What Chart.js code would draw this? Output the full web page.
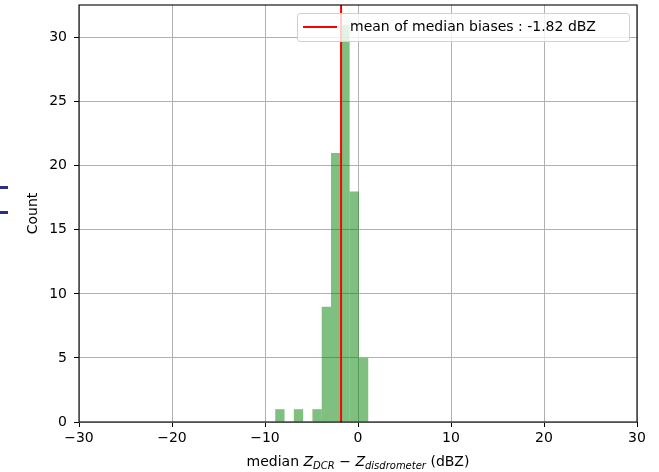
<!DOCTYPE html>
<html>
<head>
<meta charset="utf-8">
<script src="https://cdn.jsdelivr.net/npm/chart.js@4/dist/chart.umd.min.js"></script>
<style>
    body { margin: 0; background: #fff; }
    #wrap { position: relative; width: 659px; height: 472px; font-family: "DejaVu Sans", sans-serif; }
    #legend {
        position: absolute; left: 297px; top: 13px; width: 331px; height: 27px;
        background: rgba(255, 255, 255, 0.8); border: 1px solid #d0d0d0; border-radius: 3px;
        font-size: 14px; color: #000;
    }
    #legend .swatch { position: absolute; left: 5px; top: 12px; width: 34px; height: 2px; background: #ff0000; }
    #legend .txt { position: absolute; left: 52px; top: 4px; white-space: nowrap; }
    #xlabel {
        position: absolute; left: 79px; width: 558px; top: 453px; text-align: center;
        font-size: 14px; color: #000; white-space: nowrap;
    }
    #xlabel sub { font-size: 10px; vertical-align: -3px; }
    #mark { position: absolute; left: 0px; top: 186px; width: 8px; height: 22px;
        border-top: 3px solid #2b2f8c; border-bottom: 3px solid #2b2f8c; }
</style>
</head>
<body>
<div id="wrap">
    <canvas id="hist" width="659" height="472"></canvas>
    <div id="legend"><span class="swatch"></span><span class="txt" id="legendText"></span></div>
    <div id="xlabel">median <i>Z</i><sub><i>DCR</i></sub> − <i>Z</i><sub><i>disdrometer</i></sub> (dBZ)</div>
    <div id="mark"></div>
</div>
<script>
/* ============================================================
   DATA
============================================================ */
const binEdges = [-8.9, -7.9, -6.9, -5.9, -4.9, -3.9, -2.9, -1.9, -0.9, 0.1, 1.1];
const binCounts = [1, 0, 1, 0, 1, 9, 21, 31, 18, 5];
const meanBias = -1.82;
const xTicks = [-30, -20, -10, 0, 10, 20, 30];
const yTicks = [0, 5, 10, 15, 20, 25, 30];
const yMax = 32.55;

/* ============================================================
   Helper
============================================================ */
function minusSign(v) {
    return v < 0 ? "\u2212" + Math.abs(v) : String(v);
}

const barPoints = binCounts.map((c, i) => ({ x: (binEdges[i] + binEdges[i + 1]) / 2, y: c }));

document.getElementById("legendText").textContent =
    "mean of median biases : " + meanBias.toFixed(2) + " dBZ";

// matplotlib draws a box on all four sides
const frame = {
    id: "frame",
    afterDraw(chart) {
        const a = chart.chartArea;
        const ctx = chart.ctx;
        ctx.save();
        ctx.strokeStyle = "#000";
        ctx.lineWidth = 1.1;
        ctx.strokeRect(a.left, a.top, a.right - a.left, a.bottom - a.top);
        ctx.restore();
    }
};

Chart.defaults.font.family = "'DejaVu Sans', sans-serif";
Chart.defaults.color = "#000";

new Chart(document.getElementById("hist").getContext("2d"), {
    type: "bar",
    data: {
        datasets: [
            {
                type: "line",
                data: [{ x: meanBias, y: 0 }, { x: meanBias, y: yMax }],
                borderColor: "#ff0000",
                borderWidth: 2,
                pointRadius: 0,
                order: 0
            },
            {
                type: "bar",
                data: barPoints,
                backgroundColor: "rgba(0, 128, 0, 0.5)",
                borderWidth: 0,
                inflateAmount: 0,
                barPercentage: 1,
                categoryPercentage: 1,
                order: 1
            }
        ]
    },
    options: {
        responsive: false,
        animation: false,
        layout: { padding: { left: 0, right: 22, top: 5, bottom: 0 } },
        plugins: { legend: { display: false }, tooltip: { enabled: false } },
        scales: {
            x: {
                type: "linear",
                min: -30,
                max: 30,
                offset: false,
                afterBuildTicks: s => { s.ticks = xTicks.map(v => ({ value: v })); },
                afterFit: s => { s.height = 50; s.paddingLeft = 0; s.paddingRight = 0; },
                ticks: { callback: v => minusSign(v), font: { size: 14 }, padding: 3, maxRotation: 0 },
                grid: { color: "#b0b0b0", lineWidth: 1, tickColor: "#000", tickLength: 5, offset: false },
                border: { display: false }
            },
            y: {
                min: 0,
                max: yMax,
                afterBuildTicks: s => { s.ticks = yTicks.map(v => ({ value: v })); },
                afterFit: s => { s.width = 79; s.paddingTop = 0; s.paddingBottom = 0; },
                ticks: { font: { size: 14 }, padding: 7 },
                grid: { color: "#b0b0b0", lineWidth: 1, tickColor: "#000", tickLength: 5 },
                border: { display: false },
                title: { display: true, text: "Count", font: { size: 14 }, padding: { top: 25, bottom: 0 } }
            }
        }
    },
    plugins: [frame]
});
</script>
</body>
</html>
